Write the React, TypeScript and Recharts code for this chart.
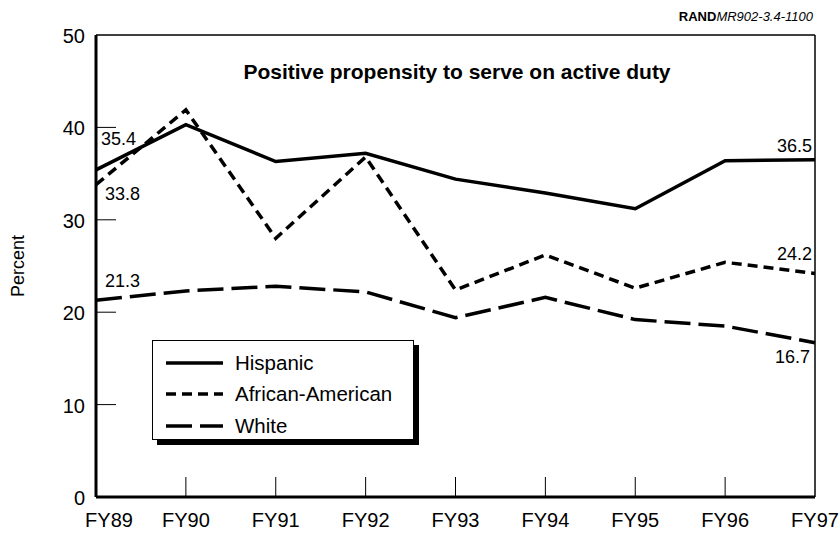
import React from 'react';
import {
  LineChart,
  Line,
  XAxis,
  YAxis,
  Legend,
  LabelList,
  ReferenceLine,
} from 'recharts';

const years = ['FY89', 'FY90', 'FY91', 'FY92', 'FY93', 'FY94', 'FY95', 'FY96', 'FY97'];
const hispanic = [35.4, 40.3, 36.3, 37.2, 34.4, 32.9, 31.2, 36.4, 36.5];
const africanAmerican = [33.8, 41.9, 28.0, 36.8, 22.4, 26.2, 22.6, 25.4, 24.2];
const white = [21.3, 22.3, 22.8, 22.2, 19.4, 21.6, 19.2, 18.5, 16.7];
const yTicks = [0, 10, 20, 30, 40, 50];

const FONT = 'Liberation Sans, Arial, Helvetica, sans-serif';

const data = years.map((year, i) => ({
  year,
  hispanic: hispanic[i],
  africanAmerican: africanAmerican[i],
  white: white[i],
}));

const series = [
  { key: 'hispanic', name: 'Hispanic', dash: undefined },
  { key: 'africanAmerican', name: 'African-American', dash: '10 6' },
  { key: 'white', name: 'White', dash: '26 8' },
];

// tick marks point into the plot, labels sit outside
const XTick = ({ x, y, payload, index }: any) => (
  <g>
    {index > 0 && index < years.length - 1 && (
      <line x1={x} x2={x} y1={y} y2={y - 20} stroke="#000" strokeWidth={1} />
    )}
    <text
      x={index === 0 ? x + 13 : x}
      y={y + 30}
      textAnchor="middle"
      fontSize={20}
      fontFamily={FONT}
      fill="#000"
    >
      {payload.value}
    </text>
  </g>
);

const YTick = ({ x, y, payload }: any) => (
  <g>
    {payload.value > 0 && payload.value < 50 && (
      <line x1={x} x2={x + 20} y1={y} y2={y} stroke="#000" strokeWidth={1} />
    )}
    <text x={x - 11} y={y + 8} textAnchor="end" fontSize={20} fontFamily={FONT} fill="#000">
      {payload.value}
    </text>
  </g>
);

// end-point value labels: [first dx, first dy, last dx, last dy]
const labelOffsets: Record<string, number[]> = {
  hispanic: [5, -25, -3, -8],
  africanAmerican: [9, 15, -3, -13],
  white: [9, -13, -5, 20],
};

const makeLabel = (key: string) => (props: any) => {
  const { x, y, value, index } = props;
  const off = labelOffsets[key];
  if (index === 0) {
    return (
      <text x={x + off[0]} y={y + off[1]} fontSize={18} fontFamily={FONT} fill="#000">
        {value.toFixed(1)}
      </text>
    );
  }
  if (index === years.length - 1) {
    return (
      <text x={x + off[2]} y={y + off[3]} textAnchor="end" fontSize={18} fontFamily={FONT} fill="#000">
        {value.toFixed(1)}
      </text>
    );
  }
  return null;
};

const renderLegend = () => (
  <div
    style={{
      width: 262,
      height: 100,
      border: '1px solid #000',
      boxShadow: '5px 5px 0 #000',
      background: '#fff',
      boxSizing: 'border-box',
      paddingTop: 6,
    }}
  >
    {series.map((s) => (
      <div key={s.key} style={{ display: 'flex', alignItems: 'center', height: 31.5 }}>
        <svg width={82} height={10}>
          <line x1={13} x2={70} y1={5} y2={5} stroke="#000" strokeWidth={3.5} strokeDasharray={s.dash} />
        </svg>
        <span style={{ fontSize: 20.5, fontFamily: FONT, color: '#000' }}>{s.name}</span>
      </div>
    ))}
  </div>
);

export default function App() {
  return (
    <div style={{ position: 'absolute', left: 0, top: 0, width: 839, height: 533, background: '#fff' }}>
      <LineChart
        width={839}
        height={533}
        data={data}
        margin={{ top: 35, right: 24, left: 36, bottom: 6 }}
      >
        <XAxis
          dataKey="year"
          axisLine={{ stroke: '#000', strokeWidth: 3 }}
          tickLine={false}
          tickSize={0}
          tickMargin={0}
          height={30}
          tick={<XTick />}
          interval={0}
        />
        <YAxis
          domain={[0, 50]}
          ticks={yTicks}
          axisLine={{ stroke: '#000', strokeWidth: 3 }}
          tickLine={false}
          tickSize={0}
          tickMargin={0}
          width={60}
          tick={<YTick />}
          label={{
            value: 'Percent',
            angle: -90,
            position: 'insideLeft',
            offset: -18,
            style: { fontSize: 18, fontFamily: FONT, fill: '#000', textAnchor: 'middle' },
          }}
        />
        <ReferenceLine y={50} stroke="#000" strokeWidth={1.5} />
        <ReferenceLine x="FY97" stroke="#000" strokeWidth={1.5} />
        <Legend
          layout="horizontal"
          verticalAlign="middle"
          align="center"
          content={renderLegend}
          wrapperStyle={{ position: 'absolute', left: 152, top: 340, width: 262, height: 100 }}
        />
        {series.map((s) => (
          <Line
            key={s.key}
            type="linear"
            dataKey={s.key}
            name={s.name}
            stroke="#000"
            strokeWidth={3.5}
            strokeDasharray={s.dash}
            dot={false}
            activeDot={false}
            isAnimationActive={false}
          >
            <LabelList dataKey={s.key} content={makeLabel(s.key)} />
          </Line>
        ))}
        <text x={457} y={79} textAnchor="middle" fontSize={21} fontWeight="bold" fontFamily={FONT} fill="#000">
          Positive propensity to serve on active duty
        </text>
        <text x={813} y={21} textAnchor="end" fontSize={13} fontFamily={FONT} fill="#000">
          <tspan fontWeight="bold">RAND</tspan>
          <tspan fontStyle="italic">MR902-3.4-1100</tspan>
        </text>
      </LineChart>
    </div>
  );
}
